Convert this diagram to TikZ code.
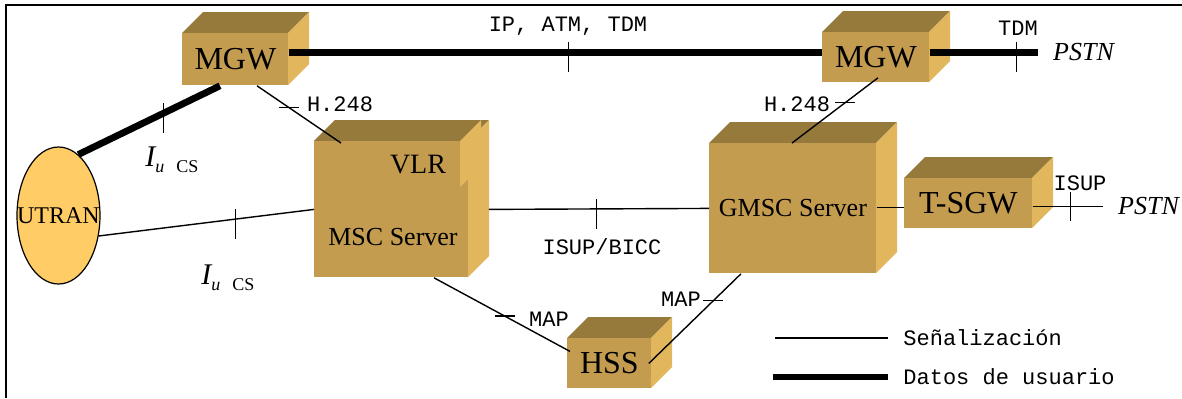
\documentclass[tikz,border=0pt]{standalone}
\usepackage{fontspec}
\setmainfont{Liberation Serif}
\setmonofont{Liberation Mono}
\usepackage{tikz}
\usetikzlibrary{shapes,positioning,calc}

\definecolor{cubefront}{RGB}{196,156,80}
\definecolor{cubetop}{RGB}{150,122,60}
\definecolor{cubeside}{RGB}{226,182,92}
\definecolor{utranfill}{RGB}{255,204,102}

\newcommand{\bigfont}{\fontsize{16}{18}\selectfont}
\newcommand{\midfont}{\fontsize{13}{15}\selectfont}
\newcommand{\iucs}{{\fontsize{15}{17}\selectfont\itshape I}\raisebox{-3pt}{\fontsize{9}{10}\selectfont\itshape u\hspace{6pt}\upshape CS}}

% 3D box: name, x, y, width, height, text
\newcommand{\cubebox}[6]{%
  \fill[cubetop] (#2,#3) -- ++(21,-21) -- ++(#4,0) -- ++(-21,21) -- cycle;
  \fill[cubeside] ({#2+#4},#3) -- ++(21,-21) -- ++(0,#5) -- ++(-21,21) -- cycle;
  \node[cube, minimum width={#4*0.5pt}, minimum height={#5*0.5pt}] (#1) at (#2,#3) {#6};
}
\newcommand{\vtick}[1]{\draw[senal] ([yshift=5pt]#1) -- ([yshift=-10pt]#1);}
\newcommand{\htick}[1]{\draw[senal] ([xshift=-5pt]#1) -- ([xshift=5pt]#1);}

\tikzset{
  senal/.style={line width=0.7pt},
  datos/.style={line width=3.4pt},
  cube/.style={fill=cubefront, inner sep=0pt, anchor=north west, font=\bigfont},
  mono/.style={font=\fontsize{11}{13}\selectfont\ttfamily, inner sep=0pt},
  pstn/.style={font=\midfont\itshape, inner sep=0pt, anchor=west},
}

\begin{document}
\begin{tikzpicture}[x=0.5pt, y=-0.5pt]
    \useasboundingbox (0,0) rectangle (1182,398);
    % frame
    \draw [line width=1pt] (1182,4.5) -- (6,4.5) -- (6,398);

    % boxes
    \cubebox{mgwa}{182}{33}{106}{52}{MGW}
    \cubebox{mgwb}{822}{32}{107}{50}{MGW}
    \cubebox{msc}{314}{141}{154}{136}{}
    \cubebox{vlr}{314}{141}{146}{46}{}
    \node [font=\fontsize{14}{16}\selectfont, inner sep=0pt] (vlrtext) at (418,165) {VLR};
    \node [font=\midfont, inner sep=0pt] (msctext) at (393,237) {MSC Server};
    \cubebox{gmsc}{709}{143}{167}{130}{\midfont GMSC Server}
    \cubebox{tsgw}{904}{178}{128}{50}{T-SGW}
    \cubebox{hss}{567}{338}{84}{50}{HSS}

    % UTRAN
    \node [ellipse, draw, fill=utranfill, line width=0.6pt, minimum width=41.5pt, minimum height=68.5pt,
           inner sep=0pt, label={[font=\fontsize{12}{14}\selectfont, inner sep=0pt]center:UTRAN}] (utran) at (58.5,215.5) {};

    % user data
    \draw [datos] (utran.72) -- ([xshift=19pt]mgwa.south west) coordinate[pos=0.6] (tiua);
    \vtick{tiua}
    \node (iua) at (172,160) {\iucs};
    \draw [datos] ([yshift=3.5pt]mgwa.east) -- ([yshift=2.5pt]mgwb.west) coordinate[pos=0.524] (tip);
    \vtick{tip}
    \node [mono] (lblip) at (568,26) {IP, ATM, TDM};
    \draw [datos] ([yshift=2.5pt]mgwb.east) -- ++(108,0) coordinate[pos=0.8] (ttdm) coordinate (pstna);
    \vtick{ttdm}
    \node [mono] (lbltdm) at (1018,28) {TDM};
    \node [pstn] (pstntop) at ([xshift=7.5pt]pstna) {PSTN};

    % signalling
    \draw [senal] (utran.-27) -- (msc.west) coordinate[pos=0.635] (tiub);
    \vtick{tiub}
    \node (iub) at (228,278) {\iucs};
    \draw [senal] ([xshift=37.5pt]mgwa.south west) -- ([xshift=13.5pt,yshift=-1pt]msc.north west) coordinate[pos=0.38] (tha);
    \htick{tha}
    \node [mono] (lblha) at (340,104) {H.248};
    \draw [senal] ([xshift=28pt,yshift=2.5pt]mgwb.south west) -- ([xshift=41.5pt]gmsc.north west) coordinate[pos=0.38] (thb);
    \htick{thb}
    \node [mono] (lblhb) at (797,104) {H.248};
    \draw [senal] ([xshift=10pt]msc.east) -- (gmsc.west) coordinate[pos=0.49] (tisup);
    \vtick{tisup}
    \node [mono] (lblbicc) at (602,247) {ISUP/BICC};
    \draw [senal] ([yshift=0.5pt]gmsc.east) -- ([yshift=-2pt]tsgw.west);
    \draw [senal] ([yshift=-1.5pt]tsgw.east) -- ++(70,0) coordinate[pos=0.54] (tisupb) coordinate (pstnb);
    \draw [senal] ([yshift=7pt]tisupb) -- ([yshift=-7.5pt]tisupb);
    \node [mono] (lblisup) at (1080,183) {ISUP};
    \node [pstn] (pstnright) at ([xshift=7.5pt]pstnb) {PSTN};
    \draw [senal] ([xshift=60pt]msc.south west) -- ([xshift=1.5pt,yshift=6pt]hss.west) coordinate[pos=0.52] (tmapa);
    \htick{tmapa}
    \node [mono] (lblmapa) at (549,319) {MAP};
    \draw [senal] ([xshift=16pt]gmsc.south west) -- ([xshift=-1.5pt]hss.east) coordinate[pos=0.3] (tmapb);
    \htick{tmapb}
    \node [mono] (lblmapb) at (681,299) {MAP};

    % legend
    \coordinate (lega) at (775,338);
    \coordinate (legb) at (773,377);
    \draw [senal] (lega) -- ++(113,0);
    \draw [datos] (legb) -- ++(115,0);
    \node [mono, anchor=west] (legsenal) at (903,338) {Señalización};
    \node [mono, anchor=west] (legdatos) at (903,377) {Datos de usuario};
\end{tikzpicture}
\end{document}
